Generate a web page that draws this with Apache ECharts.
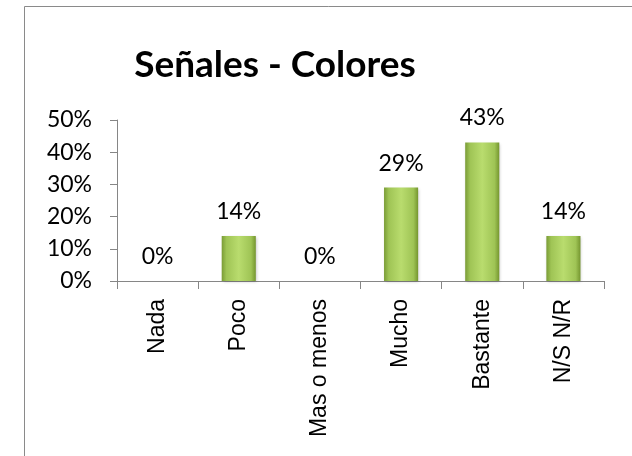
<!DOCTYPE html>
<html>
<head>
<meta charset="utf-8">
<script src="https://cdn.jsdelivr.net/npm/echarts@6/dist/echarts.min.js"></script>
<style>
  html, body { margin: 0; padding: 0; background: #ffffff; }
  #chart { width: 632px; height: 456px; }
</style>
</head>
<body>
<div id="chart"></div>
<script>
// Survey answers: share of respondents per answer, in percent
const titleText = 'Señales - Colores';
const categories = ['Nada', 'Poco', 'Mas o menos', 'Mucho', 'Bastante', 'N/S N/R'];
const shares = [0, 14, 0, 29, 43, 14];
const yMin = 0;
const yMax = 50;
const yStep = 10;

const chart = echarts.init(document.getElementById('chart'), null, { renderer: 'canvas' });

const barFill = new echarts.graphic.LinearGradient(0, 0, 1, 0, [
  { offset: 0, color: '#7a9c36' },
  { offset: 0.14, color: '#9fc455' },
  { offset: 0.5, color: '#b9dc6e' },
  { offset: 0.86, color: '#9fc455' },
  { offset: 1, color: '#75962f' }
]);

chart.setOption({
  animation: false,
  backgroundColor: '#ffffff',
  title: {
    text: titleText,
    left: 270,
    textAlign: 'center',
    top: 42,
    textStyle: {
      fontFamily: 'Lato',
      fontWeight: 'bold',
      fontSize: 37,
      color: '#000000'
    }
  },
  graphic: [{
    type: 'rect',
    silent: true,
    shape: { x: 24.5, y: 6.5, width: 700, height: 600 },
    style: { fill: 'none', stroke: '#8a8a8a', lineWidth: 1 }
  }],
  grid: { left: 117, right: 28, top: 120, bottom: 175, containLabel: false },
  xAxis: {
    type: 'category',
    data: categories,
    boundaryGap: true,
    axisLine: { lineStyle: { color: '#868686', width: 1 } },
    axisTick: { show: true, alignWithLabel: false, length: 8, lineStyle: { color: '#868686' } },
    axisLabel: {
      rotate: 90,
      interval: 0,
      margin: 18,
      fontFamily: 'Liberation Sans',
      fontSize: 23,
      color: '#000000'
    },
    splitLine: { show: false }
  },
  yAxis: {
    type: 'value',
    min: yMin,
    max: yMax,
    interval: yStep,
    axisLine: { show: true, lineStyle: { color: '#868686', width: 1 } },
    axisTick: { show: true, length: 7, lineStyle: { color: '#868686' } },
    axisLabel: {
      formatter: '{value}%',
      margin: 25,
      fontFamily: 'Lato',
      fontSize: 23,
      color: '#000000'
    },
    splitLine: { show: false }
  },
  series: [{
    type: 'bar',
    data: shares,
    barWidth: '42%',
    itemStyle: {
      color: barFill,
      borderWidth: 0,
      shadowColor: 'rgba(0,0,0,0.25)',
      shadowBlur: 3,
      shadowOffsetX: 1,
      shadowOffsetY: 1
    },
    label: {
      show: true,
      position: 'top',
      distance: 13,
      formatter: p => p.value + '%',
      fontFamily: 'Lato',
      fontSize: 23,
      color: '#000000'
    }
  }]
});
</script>
</body>
</html>
